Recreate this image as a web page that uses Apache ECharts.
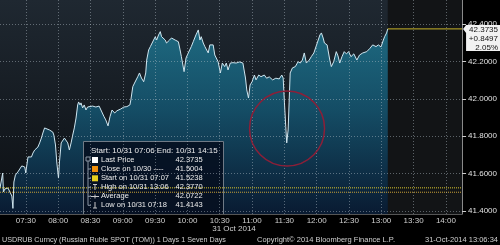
<!DOCTYPE html>
<html><head><meta charset="utf-8">
<script src="https://cdn.jsdelivr.net/npm/echarts@6/dist/echarts.min.js"></script>
<style>html,body{margin:0;padding:0;background:#000;}#c{width:500px;height:245px;}</style>
</head><body><div id="c"></div>
<script>
const sessionStart = 426; // 07:06 (minutes after midnight)
const sessionEnd = 855;   // 14:15
const elapsedMin = [0,1.4,2.5,3.2,4.6,7.4,9.2,11.0,12.0,12.9,14.3,16.6,18.4,20.2,23.0,23.9,26.0,27.6,29.2,30.6,32.2,35.2,36.8,38.4,39.8,41.4,43.0,46.0,47.6,49.0,50.0,51.5,52.7,54.3,55.2,56.8,58.3,59.8,61.4,62.9,64.4,66.0,67.5,69.0,70.6,72.1,73.0,74.3,75.2,76.7,78.2,79.8,81.3,82.8,85.9,89.0,92.0,93.6,96.6,98.2,100.3,102.1,104.0,106.5,108.6,112.0,115.0,117.8,120.6,121.5,123.3,124.9,126.1,127.9,129.5,131.3,133.4,135.3,136.2,138.0,139.6,140.8,142.6,144.2,145.4,147.2,148.8,150.0,151.8,153.4,154.6,157.4,159.2,162.6,165.6,167.2,168.4,170.9,172.7,174.8,177.6,179.4,181.9,184.1,185.6,186.8,188.7,190.2,191.7,193.3,194.8,196.3,197.9,199.4,200.9,202.5,204.6,206.4,208.6,210.1,211.7,213.8,216.3,219.3,222.4,225.5,227.0,227.9,229.1,230.7,232.2,234.0,236.2,237.7,240.2,242.3,245.4,247.5,250.0,253.1,256.1,259.2,261.6,262.9,264.1,265.3,266.2,267.5,268.4,269.4,271.5,274.2,276.7,278.8,280.7,282.5,284.4,287.1,289.0,291.4,294.5,297.0,298.4,300.0,301.2,303.7,306.2,307.6,309.8,312.2,313.8,315.4,317.5,319.6,321.6,323.7,325.8,328.5,331.3,333.8,336.8,340.5,343.5,346.0,349.1,351.3,353.7,355.9,357.1,358.9,360.0];
const price = [41.523,41.518,41.603,41.502,41.518,41.523,41.518,41.480,41.414,41.555,41.592,41.609,41.619,41.641,41.635,41.603,41.689,41.699,41.689,41.710,41.726,41.742,41.764,41.790,41.817,41.844,41.844,41.833,41.833,41.822,41.806,41.753,41.662,41.576,41.662,41.764,41.769,41.790,41.780,41.764,41.726,41.764,41.806,41.844,41.897,41.967,41.983,41.967,41.978,41.951,41.967,41.940,41.956,41.951,41.961,41.956,41.961,41.951,41.904,41.887,41.855,41.904,41.940,41.924,41.936,41.945,41.956,41.958,41.967,41.994,42.065,42.084,42.074,42.118,42.138,42.111,42.091,42.138,42.207,42.261,42.279,42.272,42.314,42.332,42.314,42.341,42.359,42.332,42.341,42.314,42.298,42.314,42.325,42.314,42.305,42.261,42.225,42.145,42.218,42.245,42.279,42.305,42.341,42.368,42.314,42.332,42.298,42.279,42.288,42.245,42.288,42.298,42.288,42.234,42.225,42.198,42.138,42.191,42.172,42.191,42.154,42.191,42.193,42.191,42.197,42.191,42.181,42.111,42.047,42.004,42.074,42.091,42.127,42.101,42.127,42.118,42.127,42.110,42.117,42.101,42.110,42.106,42.127,42.111,41.978,41.851,41.764,41.833,41.978,42.138,42.165,42.172,42.198,42.191,42.207,42.245,42.191,42.207,42.225,42.245,42.298,42.341,42.352,42.325,42.298,42.288,42.207,42.172,42.198,42.252,42.229,42.191,42.225,42.252,42.240,42.252,42.225,42.240,42.207,42.234,42.245,42.252,42.270,42.288,42.279,42.288,42.277,42.314,42.332,42.352,42.3735];
const lastPrice = 42.3735;
const closePrev = 41.5004;
const startPrice = 41.5238;
const highPrice = 42.3770;
const avgPrice = 42.0722;
const lowPrice = 41.4143;
const netChange = '+0.8497';
const pctChange = '2.05%';
const xTickMinutes = [450,480,510,540,570,600,630,660,690,720,750,780,810,840];
const yTicks = [41.4,41.6,41.8,42.0,42.2,42.4];
const legendLabels = ['Last Price','Close on 10/30 ----','Start on 10/31 07:07','High on 10/31 13:06','Average','Low on 10/31 07:18'];
const legendValues = [lastPrice, closePrev, startPrice, highPrice, avgPrice, lowPrice];
const spikeAt = [692.5, 41.841]; // annotated dip around 11:32

const FONT = '"Liberation Sans", Arial, sans-serif';
const hhmm = m => { const h = Math.floor(m/60), mm = Math.round(m%60); return String(h).padStart(2,'0')+':'+String(mm).padStart(2,'0'); };
const dataEnd = sessionStart + elapsedMin[elapsedMin.length-1];

const chart = echarts.init(document.getElementById('c'), null, {renderer:'canvas'});
const gridDash = {color:'rgba(185,195,205,0.45)', width:1, type:[1,2]};

chart.setOption({
  backgroundColor:'#000',
  animation:false,
  grid:{left:0, right:34, top:0, bottom:31, show:true, borderWidth:0,
    backgroundColor:{type:'linear',x:0,y:0,x2:0,y2:1,colorStops:[{offset:0,color:'#1f2831'},{offset:1,color:'#0c0f13'}]}},
  xAxis:{type:'value', min:sessionStart, max:sessionEnd, z:5,
    axisLine:{show:true, lineStyle:{color:'#555'}},
    axisTick:{show:false, customValues:xTickMinutes},
    axisLabel:{customValues:xTickMinutes, formatter:v=>hhmm(v), color:'#d0d0d0', fontSize:8, fontFamily:FONT, margin:3},
    splitLine:{show:true, lineStyle:gridDash}},
  yAxis:{type:'value', position:'right', min:41.384, max:42.528, z:5,
    axisLine:{show:true, lineStyle:{color:'#8a8a8a'}},
    axisTick:{show:true, length:4, customValues:yTicks, lineStyle:{color:'#cccccc'}},
    axisLabel:{customValues:yTicks, formatter:v=>v.toFixed(4), color:'#e0e0e0', fontSize:8, fontFamily:FONT, margin:6},
    splitLine:{show:true, lineStyle:gridDash}},
  series:[
    {type:'line', z:2, showSymbol:false, symbol:'none',
      data: elapsedMin.map((m,i)=>[sessionStart+m, price[i]]),
      lineStyle:{color:'#cfe6f0', width:1},
      areaStyle:{origin:'start', color:{type:'linear', x:0, y:25, x2:0, y2:214, global:true,
        colorStops:[{offset:0,color:'#1f88a5'},{offset:0.45,color:'#146282'},{offset:1,color:'#08203f'}]}},
      markArea:{silent:true, itemStyle:{color:'#121416'}, data:[[{xAxis:dataEnd},{xAxis:sessionEnd}]]}
    },
    {type:'line', z:3, showSymbol:false, symbol:'none', data:[[dataEnd,lastPrice],[sessionEnd,lastPrice]],
      lineStyle:{color:'#c9b52a', width:1}},
    {type:'line', z:4, showSymbol:false, symbol:'none', data:[[sessionStart,startPrice],[sessionEnd,startPrice]],
      lineStyle:{color:'#dcc92e', width:1, type:[1,1]}},
    {type:'line', z:4, showSymbol:false, symbol:'none', data:[[sessionStart,closePrev],[sessionEnd,closePrev]],
      lineStyle:{color:'#c9a238', width:1, type:[1,1]}}
  ]
});

const c = chart.convertToPixel({gridIndex:0}, spikeAt);
const tcol = '#ececec';
const rowY = [160,169,178.3,187.3,196.3,205.3];
const els = [];
els.push({type:'circle', z:8, shape:{cx:c[0], cy:c[1], r:37.5}, style:{fill:null, stroke:'#8c1f38', lineWidth:1.5}});
els.push({type:'rect', z:3, shape:{x:83.5,y:141.5,width:140,height:73}, style:{fill:'rgba(6,16,32,0.9)', stroke:'#6f7a86', lineWidth:1}});
els.push({type:'text', z:9, x:91, y:151, style:{text:'Start: 10/31 07:06 End: 10/31 14:15', fill:tcol, font:'8px '+FONT, verticalAlign:'middle'}});
legendLabels.forEach((l,i)=>{
  els.push({type:'text', z:9, x:101, y:rowY[i], style:{text:l, fill:tcol, font:'7.5px '+FONT, verticalAlign:'middle'}});
  els.push({type:'text', z:9, x:175.5, y:rowY[i], style:{text:legendValues[i].toFixed(4), fill:tcol, font:'7.5px '+FONT, verticalAlign:'middle'}});
  els.push({type:'line', z:9, shape:{x1:88,y1:rowY[i],x2:91,y2:rowY[i]}, style:{stroke:'#8a97a5', lineWidth:1}});
});
els.push({type:'line', z:9, shape:{x1:88,y1:159,x2:88,y2:rowY[5]}, style:{stroke:'#8a97a5', lineWidth:1}});
els.push({type:'rect', z:9, shape:{x:86,y:157,width:4,height:4}, style:{fill:'#0a1424', stroke:'#8a97a5', lineWidth:1}});
const sw = ['#ffffff','#f0900c','#e6cf1e'];
sw.forEach((col,i)=>els.push({type:'rect', z:9, shape:{x:92,y:rowY[i]-3,width:6,height:6}, style:{fill:col}}));
els.push({type:'line', z:9, shape:{x1:93,y1:184.5,x2:97,y2:184.5}, style:{stroke:'#c8c8c8', lineWidth:1}});
els.push({type:'line', z:9, shape:{x1:95,y1:184.5,x2:95,y2:190}, style:{stroke:'#c8c8c8', lineWidth:1}});
els.push({type:'line', z:9, shape:{x1:91,y1:196.5,x2:99,y2:196.5}, style:{stroke:'#c8c8c8', lineWidth:1}});
els.push({type:'line', z:9, shape:{x1:95,y1:194.5,x2:95,y2:198.5}, style:{stroke:'#c8c8c8', lineWidth:1}});
els.push({type:'line', z:9, shape:{x1:95,y1:202,x2:95,y2:208}, style:{stroke:'#c8c8c8', lineWidth:1}});
els.push({type:'line', z:9, shape:{x1:93,y1:208,x2:97,y2:208}, style:{stroke:'#c8c8c8', lineWidth:1}});
// right-side last price box
const lp = chart.convertToPixel({gridIndex:0}, [sessionEnd, lastPrice]);
els.push({type:'polygon', z:10, shape:{points:[[lp[0]+1,lp[1]],[lp[0]+4,lp[1]-4],[500,lp[1]-4],[500,lp[1]+22],[lp[0]+4,lp[1]+22],[lp[0]+4,lp[1]+4]]}, style:{fill:'#f2f2f2'}});
[[lastPrice.toFixed(4),lp[1]+0.5],[netChange,lp[1]+9.5],[pctChange,lp[1]+18.5]].forEach(t=>
  els.push({type:'text', z:11, x:498, y:t[1], style:{text:t[0], fill:'#111', font:'8px '+FONT, align:'right', verticalAlign:'middle'}}));
els.push({type:'text', z:9, x:234, y:229, style:{text:'31 Oct 2014', fill:'#d0d0d0', font:'8px '+FONT, align:'center', verticalAlign:'middle'}});
els.push({type:'text', z:9, x:2, y:240, style:{text:'USDRUB Curncy (Russian Ruble SPOT (TOM)) 1 Days 1 Seven Days', fill:'#d0d0d0', font:'7.2px '+FONT, verticalAlign:'middle'}});
els.push({type:'text', z:9, x:257, y:240, style:{text:'Copyright\u00a9 2014 Bloomberg Finance L.P.', fill:'#d0d0d0', font:'7.5px '+FONT, verticalAlign:'middle'}});
els.push({type:'text', z:9, x:425, y:240, style:{text:'31-Oct-2014 13:06:34', fill:'#d0d0d0', font:'7.5px '+FONT, verticalAlign:'middle'}});
chart.setOption({graphic:{elements:els}});
</script></body></html>
